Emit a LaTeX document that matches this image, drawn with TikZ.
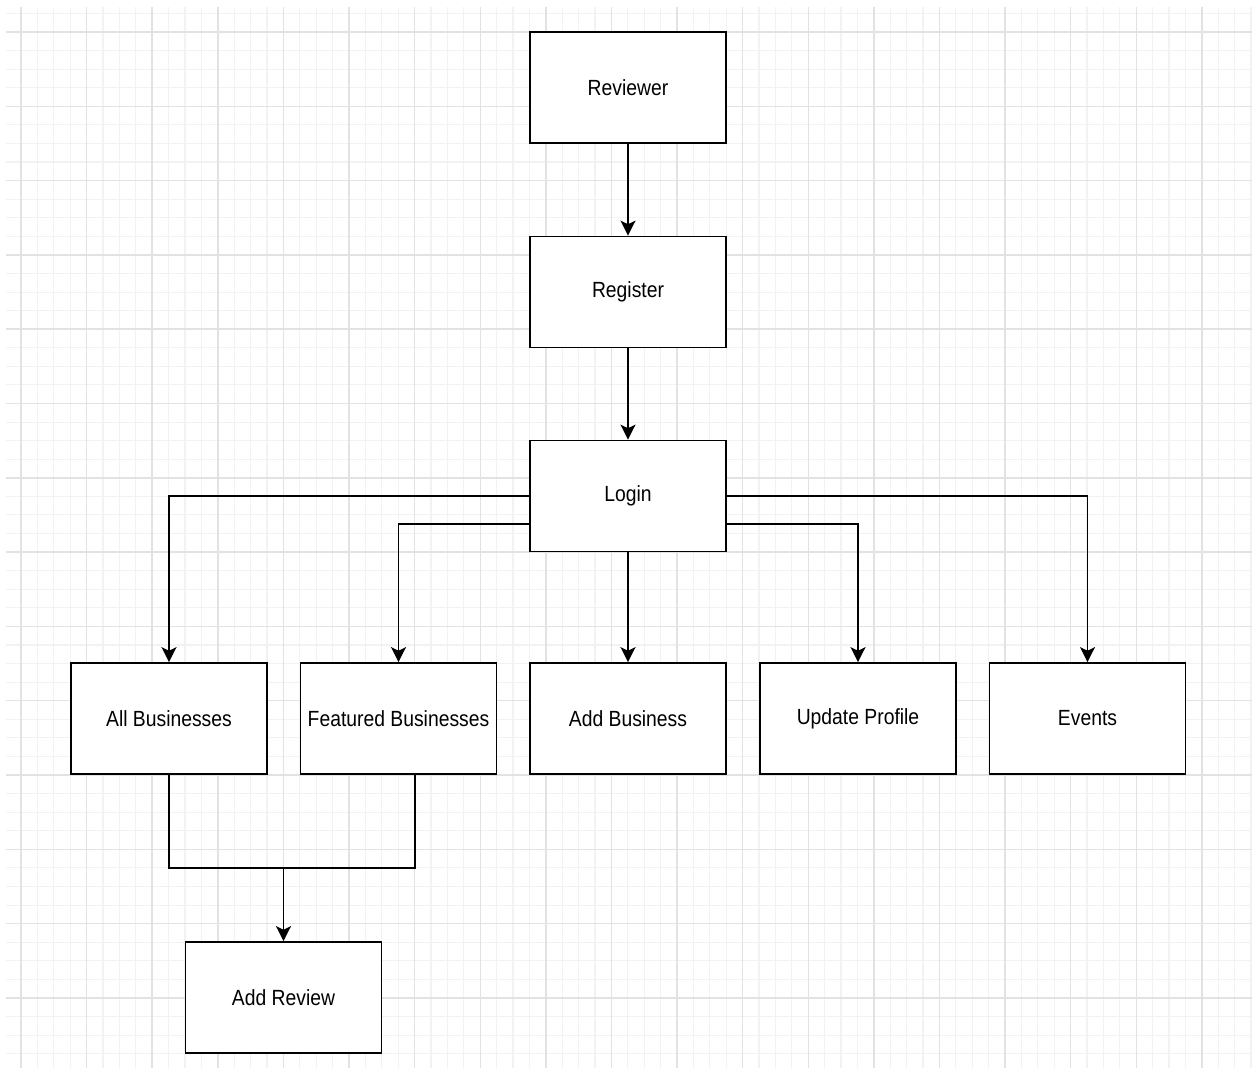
\documentclass[tikz,border=0pt]{standalone}
\usepackage{fontspec}
\setmainfont[FakeStretch=0.88]{Liberation Sans}
\usetikzlibrary{arrows.meta}
\definecolor{gridmajor}{HTML}{E2E2E2}
\definecolor{gridminor}{HTML}{F2F2F2}

\begin{document}
\begin{tikzpicture}[x=0.02cm, y=-0.02cm, line width=1pt,
  font=\fontsize{12.5}{15}\selectfont,
  box/.style={draw, rectangle, fill=white, minimum width=3.92cm, minimum height=2.22cm, align=center, inner sep=0pt},
  arr/.style={-{Stealth[length=8.5pt, width=8.5pt, inset=2pt]}}]
  \useasboundingbox (0,0) rectangle (1252,1068);
  \begin{scope}
    \clip (6,7) rectangle (1252,1068);
    \foreach \k in {-1,...,75} \draw[gridminor, line width=0.6pt] (21+16.4*\k,7) -- (21+16.4*\k,1068);
    \foreach \k in {-1,...,55} \draw[gridminor, line width=0.6pt] (6,32+18.575*\k) -- (1252,32+18.575*\k);
    \foreach \k in {0,...,18} \draw[gridmajor, line width=0.8pt] (21+65.6*\k,7) -- (21+65.6*\k,1068);
    \foreach \k in {0,...,13} \draw[gridmajor, line width=0.8pt] (6,32+74.3*\k) -- (1252,32+74.3*\k);
  \end{scope}

  \node[box] (rvw) at (628,87.5) {Reviewer};
  \node[box] (reg) at (628,292) {Register};
  \node[box] (login) at (628,496) {Login};
  \node[box] (allb) at (169,718.5) {All Businesses};
  \node[box] (feat) at (398.5,718.5) {Featured Businesses};
  \node[box] (addb) at (628,718.5) {Add Business};
  \node[box] (upd) at (858,718.5) {Update Profile};
  \node[box] (evt) at (1087.5,718.5) {Events};
  \node[box] (addr) at (283.5,997.5) {Add Review};
  \coordinate (mrg) at (283.5,868);

  \draw[arr] (rvw) -- (reg);
  \draw[arr] (reg) -- (login);
  \draw[arr] (login.west) -| (allb.north);
  \draw[arr] ([yshift=-0.56cm]login.west) -| (feat.north);
  \draw[arr] (login) -- (addb);
  \draw[arr] ([yshift=-0.56cm]login.east) -| (upd.north);
  \draw[arr] (login.east) -| (evt.north);
  \draw (allb.south) |- (mrg) -| ([xshift=0.33cm]feat.south);
  \draw[arr] (mrg) -- (addr);
\end{tikzpicture}
\end{document}
